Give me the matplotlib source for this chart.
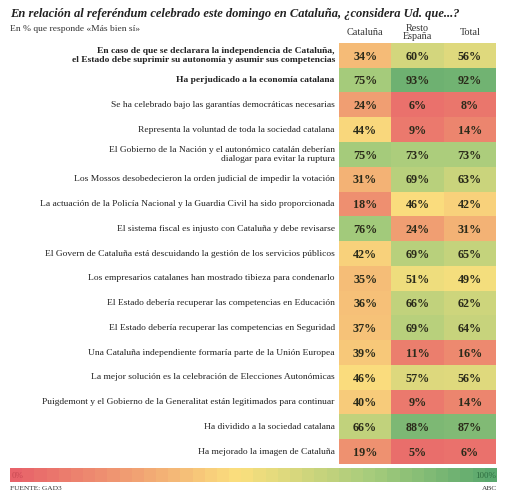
import matplotlib.pyplot as plt
import numpy as np
from matplotlib.colors import LinearSegmentedColormap

plt.rcParams['font.family'] = ['Liberation Serif', 'DejaVu Serif']

preguntas = [
    "En caso de que se declarara la independencia de Cataluña,\nel Estado debe suprimir su autonomía y asumir sus competencias",
    "Ha perjudicado a la economía catalana",
    "Se ha celebrado bajo las garantías democráticas necesarias",
    "Representa la voluntad de toda la sociedad catalana",
    "El Gobierno de la Nación y el autonómico catalán deberían\ndialogar para evitar la ruptura",
    "Los Mossos desobedecieron la orden judicial de impedir la votación",
    "La actuación de la Policía Nacional y la Guardia Civil ha sido proporcionada",
    "El sistema fiscal es injusto con Cataluña y debe revisarse",
    "El Govern de Cataluña está descuidando la gestión de los servicios públicos",
    "Los empresarios catalanes han mostrado tibieza para condenarlo",
    "El Estado debería recuperar las competencias en Educación",
    "El Estado debería recuperar las competencias en Seguridad",
    "Una Cataluña independiente formaría parte de la Unión Europea",
    "La mejor solución es la celebración de Elecciones Autonómicas",
    "Puigdemont y el Gobierno de la Generalitat están legitimados para continuar",
    "Ha dividido a la sociedad catalana",
    "Ha mejorado la imagen de Cataluña",
]
negrita = [True, True] + [False] * 15

columnas = ["Cataluña", "Resto\nEspaña", "Total"]
cataluna = [34, 75, 24, 44, 75, 31, 18, 76, 42, 35, 36, 37, 39, 46, 40, 66, 19]
resto = [60, 93, 6, 9, 73, 69, 46, 24, 69, 51, 66, 69, 11, 57, 9, 88, 5]
total = [56, 92, 8, 14, 73, 63, 42, 31, 65, 49, 62, 64, 16, 56, 14, 87, 6]

valores = np.array([cataluna, resto, total]).T

cmap = LinearSegmentedColormap.from_list(
    "abc", [(0.0, "#e8636a"), (0.25, "#f1a173"), (0.47, "#fbe07e"),
            (0.75, "#a6cc7c"), (1.0, "#5aa86e")])

fig = plt.figure(figsize=(5.1, 4.95), dpi=100)

fig.text(10 / 510, 1 - 14 / 495, "En relación al referéndum celebrado este domingo en Cataluña, ¿considera Ud. que...?",
         fontsize=9, fontweight="bold", fontstyle="italic", color="#222222", va="center")
fig.text(10 / 510, 1 - 29 / 495, "En % que responde «Más bien sí»", fontsize=6.8, color="#333333", va="center")

ax = fig.add_axes([339 / 510, 1 - 464 / 495, 157 / 510, 421 / 495])
n = len(preguntas)
ax.imshow(valores, cmap=cmap, vmin=0, vmax=100, aspect="auto",
          extent=(0, 3, n, 0), interpolation="nearest")
for i in range(n):
    for j in range(3):
        ax.text(j + 0.5, i + 0.55, f"{valores[i, j]}%", ha="center", va="center",
                fontsize=8.7, fontweight="bold", color="#2a2a1a")
    ax.text(-0.08, i + 0.5, preguntas[i], ha="right", va="center", fontsize=6.8,
            fontweight="bold" if negrita[i] else "normal", color="#222222",
            linespacing=1.2, clip_on=False)
for j, c in enumerate(columnas):
    ax.text(j + 0.5, -0.43, c, ha="center", va="center", fontsize=7.3,
            color="#333333", linespacing=0.95, clip_on=False)
ax.set_xlim(0, 3)
ax.set_ylim(n, 0)
ax.axis("off")

# barra de color escalonada
cax = fig.add_axes([10 / 510, 1 - 482 / 495, 487 / 510, 14 / 495])
pasos = np.arange(40).reshape(1, -1)
cax.imshow(pasos, cmap=cmap, vmin=0, vmax=39, aspect="auto", interpolation="nearest")
cax.axis("off")
cax.text(0.003, 0.45, "0%", transform=cax.transAxes, fontsize=6.5, color="#c94a52",
         ha="left", va="center")
cax.text(0.998, 0.45, "100%", transform=cax.transAxes, fontsize=6.5, color="#2e6e40",
         ha="right", va="center")

fig.text(10 / 510, 1 - 489 / 495, "FUENTE: GAD3", fontsize=5.3, color="#333333", va="center")
fig.text(497 / 510, 1 - 489 / 495, "ABC", fontsize=5.3, color="#333333", va="center", ha="right")

fig.savefig("out.png", dpi=100)
